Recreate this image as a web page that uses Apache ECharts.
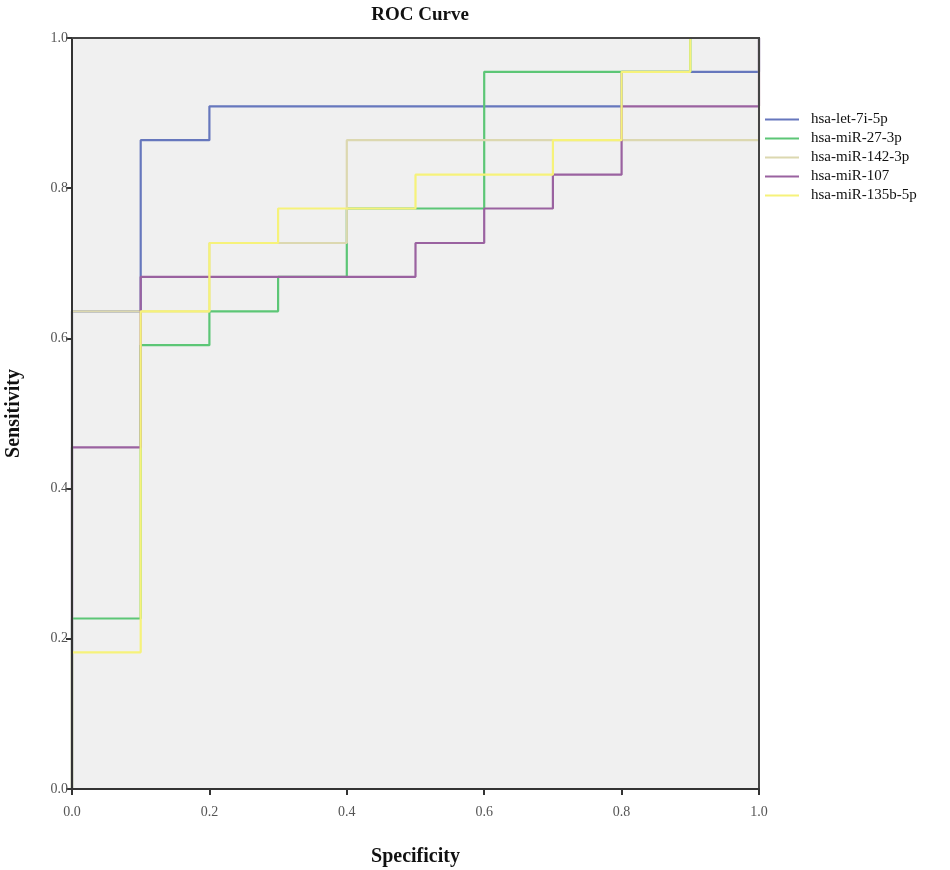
<!DOCTYPE html>
<html><head><meta charset="utf-8">
<script src="https://cdn.jsdelivr.net/npm/echarts@6/dist/echarts.min.js"></script>
<style>html,body{margin:0;padding:0;background:#fff}#c{width:950px;height:870px}</style>
</head><body><div id="c"></div>
<script>
const seriesNames = ['hsa-let-7i-5p','hsa-miR-27-3p','hsa-miR-142-3p','hsa-miR-107','hsa-miR-135b-5p'];
const seriesColors = ['#6677bd','#5cc676','#dcd8b0','#9a62a0','#f6f27a'];
// step points [x, y]
const let7i = [[0,0],[0,0.636],[0.1,0.636],[0.1,0.864],[0.2,0.864],[0.2,0.909],[0.8,0.909],[0.8,0.955],[1,0.955],[1,1]];
const miR27 = [[0,0],[0,0.227],[0.1,0.227],[0.1,0.591],[0.2,0.591],[0.2,0.636],[0.3,0.636],[0.3,0.682],[0.4,0.682],[0.4,0.773],[0.6,0.773],[0.6,0.955],[0.9,0.955],[0.9,1],[1,1]];
const miR142 = [[0,0],[0,0.636],[0.1,0.636],[0.2,0.636],[0.2,0.727],[0.4,0.727],[0.4,0.864],[1,0.864],[1,1]];
const miR107 = [[0,0],[0,0.455],[0.1,0.455],[0.1,0.682],[0.5,0.682],[0.5,0.727],[0.6,0.727],[0.6,0.773],[0.7,0.773],[0.7,0.818],[0.8,0.818],[0.8,0.909],[1,0.909],[1,1]];
const miR135b = [[0,0],[0,0.182],[0.1,0.182],[0.1,0.636],[0.2,0.636],[0.2,0.727],[0.3,0.727],[0.3,0.773],[0.5,0.773],[0.5,0.818],[0.7,0.818],[0.7,0.864],[0.8,0.864],[0.8,0.955],[0.9,0.955],[0.9,1],[1,1]];
const allData = [let7i, miR27, miR142, miR107, miR135b];
const title = 'ROC Curve';
const xName = 'Specificity';
const yName = 'Sensitivity';

const serif = '"Liberation Serif", "DejaVu Serif", serif';
const frameAxis = (pos) => ({
  type: 'value', min: 0, max: 1, position: pos, z: 10,
  axisLine: { show: true, onZero: false, lineStyle: { color: '#444', width: 2 } },
  axisTick: { show: false }, axisLabel: { show: false }, splitLine: { show: false }
});
const chart = echarts.init(document.getElementById('c'));
chart.setOption({
  animation: false,
  backgroundColor: '#ffffff',
  title: { text: title, left: 415, top: 1, textAlign: 'center',
    textStyle: { fontFamily: serif, fontSize: 19, fontWeight: 'bold', color: '#111' } },
  legend: {
    orient: 'vertical', left: 760, top: 107, itemGap: 4,
    itemWidth: 34, itemHeight: 15, icon: 'path://M0,6 L34,6 L34,8 L0,8 Z',
    data: seriesNames,
    textStyle: { fontFamily: serif, fontSize: 15, color: '#111', padding: [0,0,0,7] }
  },
  grid: { left: 72, right: 191, top: 38, bottom: 81, show: true,
    containLabel: false, outerBoundsMode: 'none',
    backgroundColor: '#f0f0f0', borderColor: '#4a4a4a', borderWidth: 2 },
  xAxis: [{
    type: 'value', min: 0, max: 1, interval: 0.2, z: 10,
    name: xName, nameLocation: 'middle', nameGap: 58,
    nameTextStyle: { fontFamily: serif, fontSize: 20, fontWeight: 'bold', color: '#111' },
    axisLine: { show: true, onZero: false, lineStyle: { color: '#333', width: 2 } },
    axisTick: { show: true, length: 6, lineStyle: { color: '#333', width: 2 } },
    splitLine: { show: false },
    axisLabel: { fontFamily: serif, fontSize: 14, color: '#555', margin: 16,
      formatter: v => v.toFixed(1) }
  }, frameAxis('top')],
  yAxis: [{
    type: 'value', min: 0, max: 1, interval: 0.2, z: 10,
    name: yName, nameLocation: 'middle', nameGap: 48,
    nameTextStyle: { fontFamily: serif, fontSize: 20, fontWeight: 'bold', color: '#111' },
    axisLine: { show: true, onZero: false, lineStyle: { color: '#333', width: 2 } },
    axisTick: { show: true, length: 6, lineStyle: { color: '#333', width: 2 } },
    splitLine: { show: false },
    axisLabel: { fontFamily: serif, fontSize: 14, color: '#555', margin: 4,
      formatter: v => v.toFixed(1) }
  }, frameAxis('right')],
  series: seriesNames.map((n, i) => ({
    name: n, type: 'line', data: allData[i], showSymbol: false, symbol: 'none',
    color: seriesColors[i],
    lineStyle: { color: seriesColors[i], width: 2.2 }
  }))
});
</script></body></html>
